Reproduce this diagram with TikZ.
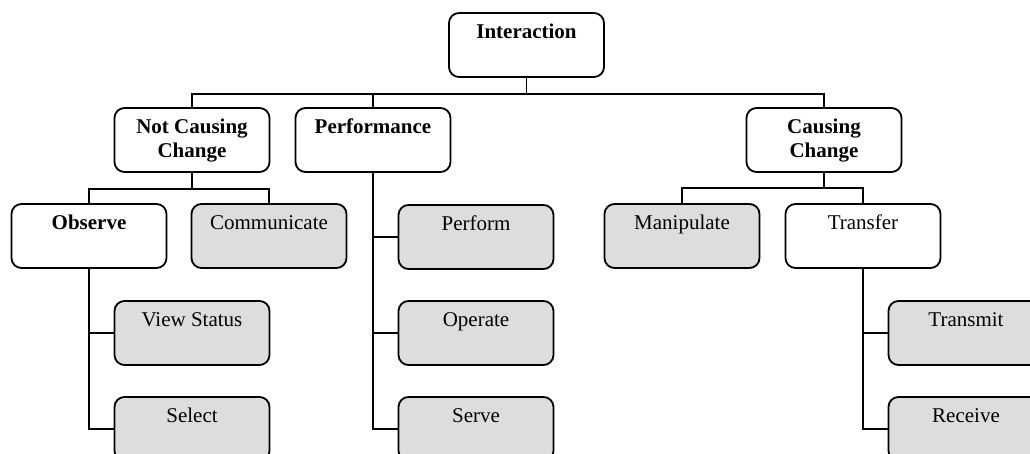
\documentclass[tikz,border=0pt]{standalone}
\usepackage{fontspec}
\setmainfont{Liberation Serif}
\definecolor{leafgray}{HTML}{DDDDDD}
\begin{document}
\begin{tikzpicture}[x=0.5bp,y=-0.5bp,
  box/.style={draw=black, line width=0.9bp, rounded corners=5bp,
    minimum width=77.5bp, minimum height=32bp, inner xsep=0pt, inner ysep=0pt,
    text height=13bp, text depth=19bp, align=center,
    font=\fontsize{10.5bp}{12bp}\selectfont},
  head/.style={box, fill=white, font=\fontsize{10.5bp}{12bp}\selectfont\bfseries},
  % two-line labels sit on the baseline of their last line
  twoline/.style={head, text height=25bp, text depth=7bp},
  plain/.style={box, fill=white},
  leaf/.style={box, fill=leafgray},
  link/.style={draw=black, line width=0.65bp}]
\useasboundingbox (0,0) rectangle (1030,454);
\clip (0,0) rectangle (1030,454);

% top level
\node[head]    (inter) at (526.5,45) {Interaction};
\node[twoline] (ncc)   at (192,140)  {Not Causing\\Change};
\node[head]    (perf)  at (373,140)  {Performance};
\node[twoline] (cc)    at (824,140)  {Causing\\Change};

% second level
\node[head]  (obs)    at (89,236)  {Observe};
\node[leaf]  (comm)   at (269,236) {Communicate};
\node[leaf]  (manip)  at (682,236) {Manipulate};
\node[plain] (trans)  at (863,236) {Transfer};

% stacked leaves
\node[leaf] (view)     at (192,333) {View Status};
\node[leaf] (select)   at (192,429) {Select};
\node[leaf] (perform)  at (476,237) {Perform};
\node[leaf] (operate)  at (476,333) {Operate};
\node[leaf] (serve)    at (476,429) {Serve};
\node[leaf] (transmit) at (966,333) {Transmit};
\node[leaf] (receive)  at (966,429) {Receive};

% bus connectors
\draw[link] (inter.south) -- ++(0,16) -| (ncc.north);
\draw[link] (inter.south) -- ++(0,16) -| (perf.north);
\draw[link] (inter.south) -- ++(0,16) -| (cc.north);
\draw[link] (ncc.south) -- ++(0,16) -| (obs.north);
\draw[link] (ncc.south) -- ++(0,16) -| (comm.north);
\draw[link] (cc.south) -- ++(0,15) -| (manip.north);
\draw[link] (cc.south) -- ++(0,15) -| (trans.north);

% side connectors
\draw[link] (obs.south) |- (view.west);
\draw[link] (obs.south) |- (select.west);
\draw[link] (perf.south) |- (perform.west);
\draw[link] (perf.south) |- (operate.west);
\draw[link] (perf.south) |- (serve.west);
\draw[link] (trans.south) |- (transmit.west);
\draw[link] (trans.south) |- (receive.west);
\end{tikzpicture}
\end{document}
